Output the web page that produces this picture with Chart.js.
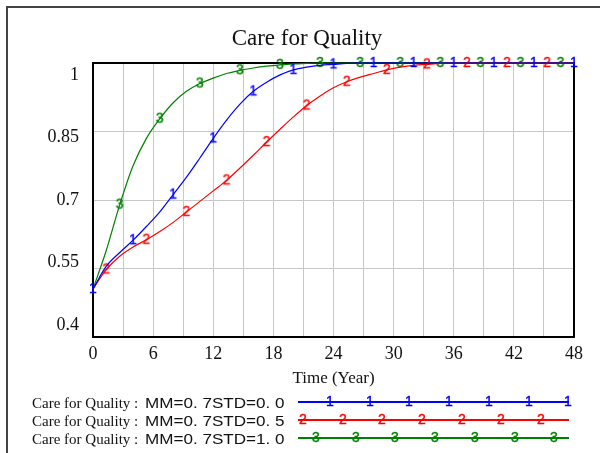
<!DOCTYPE html>
<html>
<head>
<meta charset="utf-8">
<script src="https://cdn.jsdelivr.net/npm/chart.js@4.4.0/dist/chart.umd.min.js"></script>
<style>
  html, body { margin: 0; padding: 0; background: #fff; }
  #wrap { width: 600px; height: 453px; }
</style>
</head>
<body>
<div id="wrap"><canvas id="careChart" width="600" height="453"></canvas></div>
<script>
    var chartTitle = 'Care for Quality';
    var xAxisTitle = 'Time (Year)';
    var legendPrefix = 'Care for Quality : ';
    var seriesNames = ['MM=0. 7STD=0. 0', 'MM=0. 7STD=0. 5', 'MM=0. 7STD=1. 0'];
    var seriesMarks = ['1', '2', '3'];
    var seriesColors = ['#0000ff', '#ff0000', '#008000'];

    // time (years)
    var times = [0, 1.33, 2.67, 4, 5.33, 6.67, 8, 9.33, 10.67, 12, 13.33, 14.67, 16, 17.33, 18.67,
        20, 21.33, 22.67, 24, 25.33, 26.67, 28, 29.33, 30.67, 32, 33.33, 34.67, 36, 37.33, 38.67,
        40, 41.33, 42.67, 44, 45.33, 46.67, 48];

    var std00 = [0.505, 0.555, 0.585, 0.612, 0.642, 0.674, 0.712, 0.75, 0.792, 0.835, 0.875, 0.91,
        0.938, 0.958, 0.974, 0.985, 0.991, 0.995, 0.997, 0.999, 1, 1, 1, 1, 1, 1, 1, 1, 1, 1,
        1, 1, 1, 1, 1, 1, 1];
    var std05 = [0.505, 0.548, 0.577, 0.597, 0.613, 0.631, 0.651, 0.674, 0.697, 0.72, 0.743, 0.77,
        0.798, 0.827, 0.855, 0.882, 0.907, 0.928, 0.946, 0.959, 0.969, 0.977, 0.985, 0.991, 0.995,
        0.997, 0.999, 1, 1, 1, 1, 1, 1, 1, 1, 1, 1];
    var std10 = [0.505, 0.59, 0.69, 0.775, 0.835, 0.878, 0.913, 0.938, 0.955, 0.967, 0.977, 0.984,
        0.989, 0.993, 0.996, 0.998, 0.999, 1, 1, 1, 1, 1, 1, 1, 1, 1, 1, 1, 1, 1,
        1, 1, 1, 1, 1, 1, 1];
    var seriesValues = [std00, std05, std10];

    var xTickLabels = ['0', '6', '12', '18', '24', '30', '36', '42', '48'];
    var yTickLabels = ['0.4', '0.55', '0.7', '0.85', '1'];

    // little canvases with the digit, used as point style (Vensim style markers)
    function makeMark(txt, color) {
        var c = document.createElement('canvas');
        c.width = 14;
        c.height = 16;
        var g = c.getContext('2d');
        g.font = '14px "Liberation Sans"';
        g.fillStyle = color;
        g.strokeStyle = color;
        g.lineWidth = 0.4;
        g.textAlign = 'center';
        g.textBaseline = 'middle';
        g.fillText(txt, 7, 8.5);
        g.strokeText(txt, 7, 8.5);
        return c;
    }
    var marks = seriesMarks.map(function (m, i) { return makeMark(m, seriesColors[i]); });

    var decor = {
        id: 'decor',
        beforeDraw: function (chart) {
            var ctx = chart.ctx;
            ctx.save();
            ctx.strokeStyle = '#444';
            ctx.lineWidth = 2;
            ctx.beginPath();
            ctx.moveTo(7, 470);
            ctx.lineTo(7, 7);
            ctx.lineTo(620, 7);
            ctx.stroke();
            ctx.restore();
        },
        beforeDatasetsDraw: function (chart) {
            var a = chart.chartArea, ctx = chart.ctx;
            ctx.save();
            ctx.strokeStyle = '#000';
            ctx.lineWidth = 2;
            ctx.strokeRect(a.left, a.top, a.right - a.left, a.bottom - a.top);
            ctx.restore();
        },
        afterDraw: function (chart) {
            var a = chart.chartArea, ctx = chart.ctx;
            var xs = chart.scales.x, ys = chart.scales.y;
            ctx.save();
            ctx.fillStyle = '#111';

            ctx.font = '23px "Liberation Serif"';
            ctx.textAlign = 'center';
            ctx.textBaseline = 'alphabetic';
            ctx.fillText(chartTitle, 307, 45);

            // y labels are spread a bit inside the plot, as Vensim does
            var mid = (a.top + a.bottom) / 2;
            ctx.font = '18px "Liberation Serif"';
            ctx.textAlign = 'right';
            ctx.textBaseline = 'middle';
            yTickLabels.forEach(function (l) {
                var p = ys.getPixelForValue(parseFloat(l));
                ctx.fillText(l, 79, mid + (p - mid) * 0.914);
            });

            ctx.textAlign = 'center';
            xTickLabels.forEach(function (l) {
                ctx.fillText(l, xs.getPixelForValue(parseFloat(l)), 354);
            });

            ctx.font = '17px "Liberation Serif"';
            ctx.textBaseline = 'alphabetic';
            ctx.fillText(xAxisTitle, (a.left + a.right) / 2, 383);

            // legend
            var rows = [408, 426, 444];
            var firstMark = [330, 303, 316];
            seriesNames.forEach(function (name, i) {
                var y = rows[i];
                ctx.fillStyle = '#111';
                ctx.textAlign = 'left';
                ctx.font = '15px "Liberation Serif"';
                ctx.fillText(legendPrefix, 32, y);

                // the series part is a wide sans face in the original
                ctx.save();
                ctx.translate(145, y);
                ctx.scale(1.22, 1);
                ctx.font = '14px "Liberation Sans"';
                ctx.fillText(name, 0, 0);
                ctx.restore();

                ctx.strokeStyle = seriesColors[i];
                ctx.lineWidth = 2;
                ctx.beginPath();
                ctx.moveTo(298, y - 6);
                ctx.lineTo(569, y - 6);
                ctx.stroke();
                for (var mx = firstMark[i]; mx <= 570; mx += 39.7) {
                    ctx.drawImage(marks[i], Math.round(mx) - 7, y - 6 - 8);
                }
            });
            ctx.restore();
        }
    };

    var ctx = document.getElementById('careChart').getContext('2d');
    var myChart = new Chart(ctx, {
        type: 'line',
        data: {
            datasets: seriesNames.map(function (name, k) {
                return {
                    label: name,
                    data: times.map(function (t, i) { return { x: t, y: seriesValues[k][i] }; }),
                    borderColor: seriesColors[k],
                    backgroundColor: seriesColors[k],
                    borderWidth: 1.2,
                    cubicInterpolationMode: 'monotone',
                    pointStyle: marks[k],
                    pointRadius: function (c) { return c.dataIndex % 3 === k ? 5 : 0; },
                    pointHoverRadius: 0,
                    clip: false
                };
            })
        },
        options: {
            responsive: false,
            animation: false,
            events: [],
            layout: { padding: { left: 93, right: 26, top: 63, bottom: 116 } },
            plugins: {
                legend: { display: false },
                title: { display: false },
                tooltip: { enabled: false }
            },
            scales: {
                x: {
                    type: 'linear',
                    min: 0,
                    max: 48,
                    ticks: { stepSize: 3, display: false },
                    grid: { color: '#c8c8c8', lineWidth: 1, drawTicks: false },
                    border: { display: false }
                },
                y: {
                    min: 0.4,
                    max: 1,
                    ticks: { stepSize: 0.15, display: false },
                    grid: { color: '#c8c8c8', lineWidth: 1, drawTicks: false },
                    border: { display: false }
                }
            }
        },
        plugins: [decor]
    });
</script>
</body>
</html>
